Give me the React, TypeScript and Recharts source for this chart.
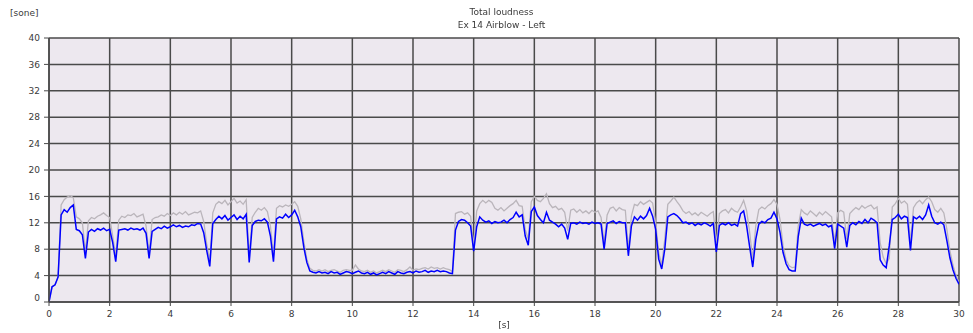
import React from 'react';
import { LineChart, Line, XAxis, YAxis, CartesianGrid } from 'recharts';

// Sampled every 0.1 s from 0.0 to 30.0 s
const blueLoudness: number[] = [
  0, 2.3, 2.6, 3.8, 13.2, 14.0, 13.6, 14.3, 14.7, 11.0,
  10.8, 10.2, 6.6, 10.6, 11.0, 10.7, 11.1, 10.9, 11.2, 10.8,
  11.0, 9.0, 6.1, 10.9, 11.0, 11.1, 10.9, 11.2, 11.0, 11.1,
  10.9, 11.2, 10.4, 6.6, 10.7, 11.0, 11.3, 11.1, 11.5, 11.2,
  11.4, 11.7, 11.4, 11.6, 11.3, 11.5, 11.4, 11.7, 11.6, 11.9,
  11.8, 10.5, 7.8, 5.4, 11.9, 12.5, 13.0, 12.6, 13.1, 12.4,
  12.8, 13.2, 12.5, 13.0, 12.6, 13.3, 6.0, 11.6, 12.2, 12.4,
  12.3, 12.6, 12.1, 10.0, 6.1, 12.6, 12.9, 12.7, 13.3, 12.8,
  13.2, 13.9, 12.9, 11.4, 8.3, 6.0, 4.7, 4.5, 4.4, 4.6,
  4.4, 4.5, 4.3, 4.6, 4.4, 4.5, 4.2, 4.4, 4.6, 4.5,
  4.3, 4.5, 4.7, 4.4, 4.3, 4.5, 4.2, 4.4, 4.1, 4.3,
  4.5, 4.3, 4.6, 4.4, 4.2, 4.6, 4.4, 4.3, 4.5, 4.6,
  4.4, 4.7, 4.5, 4.6, 4.8, 4.5, 4.7, 4.6, 4.8, 4.6,
  4.7, 4.6, 4.4, 4.3, 10.9, 12.2, 12.5, 12.4, 12.0, 11.5,
  7.7, 11.4, 12.9, 12.4, 12.1, 12.3, 11.9, 12.2, 12.0, 12.1,
  12.4, 12.0, 12.5, 12.8, 13.6, 12.9, 13.2, 10.0, 8.6, 13.7,
  14.4, 13.1, 12.5, 12.0, 13.6, 12.4, 12.1, 11.8, 11.4, 11.8,
  11.2, 9.5, 11.9, 12.0, 11.8, 12.1, 11.9, 12.0, 11.8, 12.1,
  11.9, 12.0, 11.8, 8.0, 11.9, 12.1, 12.3, 11.9, 12.2, 12.0,
  12.0, 7.0, 11.5, 12.9, 12.4, 13.0, 12.6, 13.1, 14.2, 13.0,
  11.0, 6.5, 5.0, 8.0, 12.9, 13.2, 13.4, 13.1, 12.6, 12.0,
  12.1, 11.8, 12.0, 11.6, 11.9, 11.7, 12.0, 11.8, 11.5, 11.9,
  7.6, 11.6, 11.9, 11.7, 12.0, 11.6, 11.8, 11.5, 13.4, 13.8,
  11.5, 8.3, 5.3, 9.5, 11.8, 12.2, 12.0, 12.5, 12.7, 13.6,
  12.6, 10.5, 7.5, 5.8, 4.9, 4.7, 4.7, 9.9, 12.7, 11.8,
  11.6, 11.8, 11.5, 11.7, 11.9, 11.6, 11.8, 11.4, 11.6, 8.1,
  11.8, 11.5, 11.2, 8.3, 11.6, 12.0, 11.7, 12.2, 11.9, 12.5,
  12.0, 12.7, 12.4, 12.0, 6.4, 5.6, 5.2, 8.5, 12.5, 12.8,
  13.3, 12.6, 13.0, 12.8, 7.8, 12.9, 12.6, 13.0, 12.5, 13.2,
  14.7, 13.0, 12.0, 11.8, 12.1, 11.7, 9.3, 6.7, 4.9, 3.6,
  2.7,
];

const grayLoudness: number[] = [
  0, 2.3, 2.6, 3.8, 14.7, 15.5, 15.9, 16.1, 15.8, 12.9,
  12.6, 12.0, 7.6, 12.3, 12.8, 12.6, 13.0, 13.2, 13.5, 13.1,
  12.8, 10.0, 7.0, 12.4, 13.0, 12.8, 13.2, 13.1, 13.4, 12.9,
  13.1, 13.3, 11.5, 7.4, 12.5, 12.8, 12.9, 13.2, 13.0, 13.4,
  13.1, 13.5, 13.2, 13.6, 13.3, 13.7, 13.2, 13.4, 13.6, 13.5,
  13.8, 12.2, 8.8, 6.2, 13.5, 14.8, 15.2, 14.9, 15.4, 14.7,
  15.2, 15.7, 15.0, 15.3, 14.8, 15.5, 7.0, 12.8, 13.6, 14.2,
  13.9, 14.3, 13.7, 11.5, 7.0, 14.2, 14.6, 14.4, 14.7, 14.5,
  14.8, 15.2, 14.5, 12.6, 9.2, 6.5, 5.1, 4.8, 4.7, 4.9,
  4.7, 4.9, 4.6, 4.8, 4.9, 4.7, 4.5, 4.8, 4.9, 4.8,
  4.8, 5.6, 5.0, 4.7, 4.6, 4.8, 4.5, 4.7, 4.4, 4.6,
  4.8, 4.6, 4.9, 4.7, 4.5, 4.9, 4.8, 4.6, 4.9, 5.3,
  4.8, 5.0, 4.9, 5.1, 5.2, 5.0, 5.3, 5.1, 5.2, 5.0,
  5.2, 5.0, 4.9, 4.6, 13.4, 13.6, 13.7, 13.3, 13.5, 13.0,
  8.5, 13.8, 14.9, 15.4, 15.0, 15.4, 15.1, 14.2, 13.9, 14.3,
  13.8, 14.2, 14.6, 14.9, 15.4, 14.6, 14.5, 11.0, 9.5, 15.2,
  16.0, 15.4, 15.2, 15.7, 16.4, 14.9, 14.3, 14.5, 14.0, 14.2,
  13.6, 10.8, 13.9, 14.1, 13.6, 14.0, 13.5, 13.8, 13.4, 13.9,
  13.6, 13.8, 12.8, 9.0, 13.2, 14.2, 14.4, 13.8, 14.3, 14.0,
  13.9, 8.0, 13.0, 14.8, 14.6, 15.2, 14.8, 15.1, 15.4, 15.0,
  12.0, 7.5, 5.6, 9.5, 14.8, 15.3, 15.9, 15.2, 14.6, 13.8,
  13.4, 13.7, 13.2, 13.5, 13.1, 13.6, 13.3, 13.0, 13.4, 13.7,
  8.8, 13.4, 13.8, 14.0, 13.5, 14.2, 13.8, 13.6, 14.4, 15.4,
  13.8, 10.5, 6.5, 11.5, 14.0, 14.4, 14.1, 14.6, 14.9, 15.5,
  14.8, 12.5, 8.5, 6.4, 5.5, 5.2, 5.3, 11.5, 14.0, 13.5,
  13.2, 13.8, 13.4, 13.0, 13.6, 13.2, 13.7, 13.3, 12.9, 9.0,
  13.5, 13.9, 13.6, 9.5, 13.4, 13.9, 14.3, 14.0, 14.6, 14.2,
  14.5, 14.7, 14.1, 14.4, 9.0, 6.8, 5.8, 6.6, 14.4, 14.9,
  15.7, 15.0, 15.3, 14.8, 9.0, 14.3, 15.0, 15.4, 14.9, 15.5,
  15.9, 15.2, 14.0, 13.6, 14.2, 13.5, 11.0, 7.8, 5.6, 4.0,
  3.0,
];

const xTicks = [0, 2, 4, 6, 8, 10, 12, 14, 16, 18, 20, 22, 24, 26, 28, 30];
const yTicks = [0, 4, 8, 12, 16, 20, 24, 28, 32, 36, 40];

const titleLine1 = 'Total loudness';
const titleLine2 = 'Ex 14 Airblow - Left';
const yUnit = '[sone]';
const xUnit = '[s]';

const data = blueLoudness.map((b, i) => ({
  t: i / 10,
  blue: b,
  gray: grayLoudness[i],
}));

const FONT = '"DejaVu Sans", sans-serif';
const TEXT_COLOR = '#3a3a3a';

const YTick = (props: any) => {
  const { x, y, payload } = props;
  const dy = payload.value === 0 ? -4 : 0;
  return (
    <text x={x} y={y + dy} dy="0.35em" textAnchor="end" fontFamily={FONT} fontSize={9} fill={TEXT_COLOR}>
      {payload.value}
    </text>
  );
};

const XTick = (props: any) => {
  const { x, y, payload } = props;
  return (
    <text x={x} y={y} dy="0.71em" textAnchor="middle" fontFamily={FONT} fontSize={9} fill={TEXT_COLOR}>
      {payload.value}
    </text>
  );
};

const labelStyle: React.CSSProperties = {
  position: 'absolute',
  fontFamily: FONT,
  fontSize: 9,
  color: TEXT_COLOR,
  whiteSpace: 'nowrap',
};

export default function App() {
  return (
    <div style={{ position: 'fixed', left: 0, top: 0, width: 973, height: 333, background: '#ffffff' }}>
      <LineChart
        width={973}
        height={333}
        data={data}
        margin={{ top: 38, right: 14, bottom: 0, left: 0 }}
      >
        <CartesianGrid
          stroke="#4a4a4a"
          strokeWidth={1.5}
          fill="#ede8ef"
          fillOpacity={1}
        />
        <XAxis
          dataKey="t"
          type="number"
          domain={[0, 30]}
          ticks={xTicks}
          interval={0}
          height={31}
          tickSize={4}
          tickMargin={5}
          stroke="#4a4a4a"
          tickLine={{ stroke: '#4a4a4a' }}
          axisLine={{ stroke: '#4a4a4a', strokeWidth: 1.5 }}
          tick={<XTick />}
          allowDataOverflow
        />
        <YAxis
          type="number"
          domain={[0, 40]}
          ticks={yTicks}
          interval={0}
          width={49}
          tickSize={5}
          tickMargin={4}
          tickLine={{ stroke: '#4a4a4a' }}
          axisLine={{ stroke: '#4a4a4a', strokeWidth: 1.5 }}
          tick={<YTick />}
          allowDataOverflow
        />
        <Line
          type="linear"
          dataKey="gray"
          stroke="#bab5bb"
          strokeWidth={1.3}
          dot={false}
          activeDot={false}
          isAnimationActive={false}
        />
        <Line
          type="linear"
          dataKey="blue"
          stroke="#0000ff"
          strokeWidth={1.5}
          dot={false}
          activeDot={false}
          isAnimationActive={false}
        />
      </LineChart>
      <div style={{ ...labelStyle, left: 10, top: 8 }}>{yUnit}</div>
      <div style={{ ...labelStyle, left: 0, width: 1003, top: 7, textAlign: 'center' }}>{titleLine1}</div>
      <div style={{ ...labelStyle, left: 0, width: 1003, top: 20, textAlign: 'center' }}>{titleLine2}</div>
      <div style={{ ...labelStyle, left: 0, width: 1008, top: 320, textAlign: 'center' }}>{xUnit}</div>
    </div>
  );
}
